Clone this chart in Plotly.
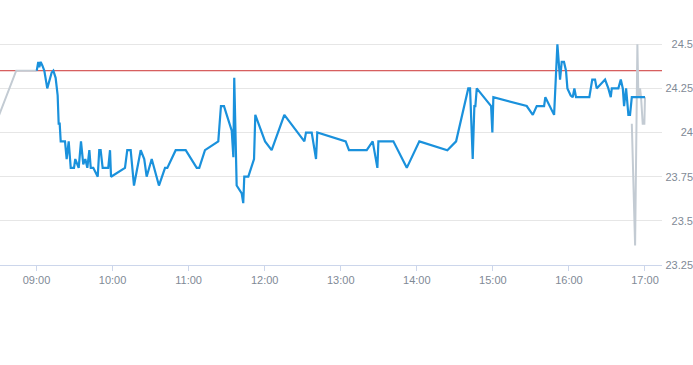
import plotly.graph_objects as go

DAY = "2024-01-02 "

# Pre-market (gray)
pre_times = ["08:30:00", "08:44:00", "09:00:00"]
pre_prices = [24.09, 24.35, 24.35]

# Regular session (blue)
times = [
    "09:00:12", "09:01:24", "09:02:12", "09:03:18", "09:04:36", "09:06:12", "09:08:30", "09:10:42",
    "09:12:00", "09:13:18", "09:15:06", "09:16:42", "09:17:30", "09:18:18", "09:19:06", "09:22:30",
    "09:23:48", "09:25:24", "09:27:00", "09:29:36", "09:30:36", "09:33:18", "09:35:06", "09:36:54",
    "09:38:30", "09:40:06", "09:41:42", "09:42:48", "09:44:48", "09:48:18", "09:49:30", "09:50:36",
    "09:52:12", "09:56:36", "09:58:00", "09:58:48", "10:09:48", "10:11:36", "10:14:18", "10:16:54",
    "10:22:12", "10:25:00", "10:26:54", "10:30:54", "10:36:36", "10:41:24", "10:43:12", "10:49:48",
    "10:57:42", "11:06:24", "11:08:24", "11:12:54", "11:23:24", "11:25:30", "11:27:54", "11:34:00",
    "11:35:18", "11:36:00", "11:37:54", "11:41:54", "11:43:06", "11:43:54", "11:47:06", "11:51:36",
    "11:52:36", "12:00:18", "12:05:30", "12:15:30", "12:31:18", "12:32:36", "12:37:06", "12:40:30",
    "12:41:30", "13:03:54", "13:06:30", "13:20:30", "13:25:12", "13:28:54", "13:29:42", "13:41:30",
    "13:52:06", "14:02:00", "14:24:06", "14:31:00", "14:40:36", "14:42:00", "14:44:06", "14:45:24",
    "14:46:12", "14:47:18", "14:58:36", "14:59:36", "15:00:24", "15:26:42", "15:31:30", "15:34:36",
    "15:40:24", "15:41:24", "15:48:18", "15:50:54", "15:53:00", "15:54:18", "15:56:06", "15:57:42",
    "15:58:48", "16:01:24", "16:03:00", "16:04:18", "16:05:36", "16:16:06", "16:18:24", "16:20:36",
    "16:21:54", "16:28:30", "16:31:06", "16:33:00", "16:33:48", "16:39:00", "16:40:54", "16:42:30",
    "16:43:30", "16:45:06", "16:46:54", "16:48:12", "16:49:36", "17:00:00",
]
prices = [
    24.35, 24.40, 24.37, 24.40, 24.38, 24.35, 24.25, 24.31,
    24.34, 24.35, 24.31, 24.21, 24.05, 24.05, 23.95, 23.95,
    23.85, 23.95, 23.80, 23.80, 23.85, 23.80, 23.95, 23.82,
    23.85, 23.80, 23.90, 23.80, 23.80, 23.75, 23.90, 23.90,
    23.80, 23.80, 23.90, 23.75, 23.80, 23.90, 23.90, 23.70,
    23.90, 23.85, 23.75, 23.85, 23.70, 23.80, 23.80, 23.90,
    23.90, 23.80, 23.80, 23.90, 23.95, 24.15, 24.15, 24.01,
    23.86, 24.31, 23.70, 23.655, 23.60, 23.75, 23.75, 23.85,
    24.10, 23.95, 23.90, 24.10, 23.95, 24.00, 24.00, 23.85,
    24.00, 23.95, 23.90, 23.90, 23.95, 23.80, 23.95, 23.95,
    23.80, 23.95, 23.90, 23.95, 24.25, 24.25, 23.85, 24.15,
    24.15, 24.25, 24.15, 24.00, 24.20, 24.15, 24.10, 24.15,
    24.15, 24.20, 24.10, 24.50, 24.30, 24.40, 24.40, 24.35,
    24.25, 24.21, 24.20, 24.25, 24.20, 24.20, 24.30, 24.30,
    24.25, 24.30, 24.25, 24.20, 24.25, 24.25, 24.30, 24.25,
    24.15, 24.25, 24.10, 24.10, 24.20, 24.20,
]

# After-hours (gray)
post_times = ["16:49:36", "16:52:12", "16:54:00", "16:54:48", "16:56:06", "16:56:54", "16:58:12", "16:59:30", "17:00:00"]
post_prices = [24.05, 23.36, 24.50, 24.20, 24.25, 24.20, 24.05, 24.05, 24.20]

prev_close = 24.35
x_range = ["08:31:13", "17:13:25"]
y_range = [23.25, 24.524]
y_ticks = [23.25, 23.5, 23.75, 24, 24.25, 24.5]
y_tick_text = ["23.25", "23.5", "23.75", "24", "24.25", "24.5"]

GRAY = "#c3cbd3"
BLUE = "#1a91dc"
LABEL = "#7f8a96"

fig = go.Figure()
fig.add_trace(go.Scatter(x=[DAY + t for t in pre_times], y=pre_prices, mode="lines",
                         line=dict(color=GRAY, width=2), hoverinfo="skip"))
fig.add_trace(go.Scatter(x=[DAY + t for t in post_times], y=post_prices, mode="lines",
                         line=dict(color=GRAY, width=2), hoverinfo="skip"))
fig.add_trace(go.Scatter(x=[DAY + t for t in times], y=prices, mode="lines",
                         line=dict(color=BLUE, width=2.2)))
fig.add_shape(type="line", xref="x domain", yref="y", x0=0, x1=1, y0=prev_close, y1=prev_close,
              line=dict(color="#cc3333", width=1), layer="below")

fig.update_layout(
    width=693, height=365,
    margin=dict(l=0, r=0, t=40, b=100),
    paper_bgcolor="white", plot_bgcolor="white",
    showlegend=False,
    font=dict(family="Liberation Sans, Arial, sans-serif", size=11, color=LABEL),
    xaxis=dict(
        type="date", domain=[0, 662 / 693],
        range=[DAY + x_range[0], DAY + x_range[1]],
        tickformat="%H:%M", dtick=3600000, tick0=DAY + "09:00:00",
        showgrid=False, showline=True, linecolor="#ccd6eb", linewidth=1,
        ticks="outside", ticklen=5, tickcolor="#ccd6eb",
        tickfont=dict(size=11, color=LABEL),
        zeroline=False, fixedrange=True,
    ),
    yaxis=dict(
        range=y_range, anchor="free", position=1, side="left",
        tickvals=y_ticks, ticktext=y_tick_text,
        showgrid=True, gridcolor="#e6e6e6", gridwidth=1,
        showline=False, ticks="", zeroline=False,
        ticklabelstandoff=0,
        tickfont=dict(size=11, color=LABEL),
        fixedrange=True,
    ),
)

fig.write_html("out.html")
